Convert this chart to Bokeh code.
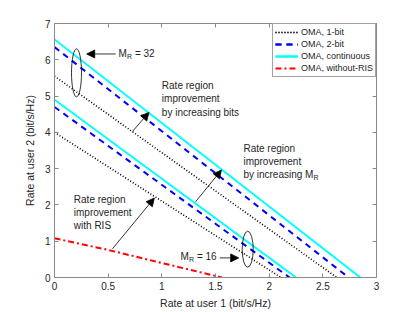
from bokeh.plotting import figure
from bokeh.models import (Range1d, FixedTicker, LinearAxis, Legend, LegendItem,
                          Label, Arrow, NormalHead)
from bokeh.embed import file_html
from bokeh.resources import INLINE

# ---- data ----
x_ticks = [0, 0.5, 1, 1.5, 2, 2.5, 3]
y_ticks = [0, 1, 2, 3, 4, 5, 6, 7]

# M_R = 32 curves: (x points, y points)
bit1_32_x = [0, 2.63]
bit1_32_y = [5.55, 0]
bit2_32_x = [0, 2.74]
bit2_32_y = [6.35, 0]
cont_32_x = [0, 2.85]
cont_32_y = [6.56, 0]

# M_R = 16 curves
bit1_16_x = [0, 2.11]
bit1_16_y = [4.0, 0]
bit2_16_x = [0, 2.19]
bit2_16_y = [4.7, 0]
cont_16_x = [0, 2.25]
cont_16_y = [4.9, 0]

# without RIS
noris_x = [0, 0.5, 1.0, 1.56]
noris_y = [1.08, 0.76, 0.40, 0]

FONT = "Liberation Sans"
AX = "#8a8a8a"
TXT = "#262626"

p = figure(width=406, height=312, output_backend="svg", toolbar_location=None,
           x_range=Range1d(0, 3), y_range=Range1d(0, 7),
           min_border_left=54, min_border_right=30, min_border_top=23,
           min_border_bottom=35)
p.outline_line_color = None
p.xgrid.visible = False
p.ygrid.visible = False
p.background_fill_color = "white"

def style_axis(ax, ticks, labels=True):
    ax.ticker = FixedTicker(ticks=ticks)
    ax.axis_line_color = AX
    ax.major_tick_line_color = AX
    ax.major_tick_in = 4
    ax.major_tick_out = 0
    ax.minor_tick_line_color = None
    ax.major_label_text_font = FONT
    ax.major_label_text_font_size = "10px"
    ax.major_label_text_color = TXT
    ax.axis_label_text_font = FONT
    ax.axis_label_text_font_size = "10.5px"
    ax.axis_label_text_font_style = "normal"
    ax.axis_label_text_color = TXT
    if not labels:
        ax.major_label_text_font_size = "0px"
        ax.major_label_text_color = None

style_axis(p.xaxis[0], x_ticks)
style_axis(p.yaxis[0], y_ticks)
p.xaxis[0].axis_label = "Rate at user 1 (bit/s/Hz)"
p.yaxis[0].axis_label = "Rate at user 2 (bit/s/Hz)"
p.xaxis[0].major_label_standoff = 4
p.yaxis[0].major_label_standoff = 4
p.xaxis[0].axis_label_standoff = 4
p.yaxis[0].axis_label_standoff = 6

top = LinearAxis()
style_axis(top, x_ticks, labels=False)
p.add_layout(top, "above")
right = LinearAxis()
style_axis(right, y_ticks, labels=False)
p.add_layout(right, "right")

# ---- lines ----
r_b1a = p.line(bit1_32_x, bit1_32_y, line_color="black", line_width=1.6, line_dash="1 2")
r_b1b = p.line(bit1_16_x, bit1_16_y, line_color="black", line_width=1.6, line_dash="1 2")
r_b2a = p.line(bit2_32_x, bit2_32_y, line_color="#0000ff", line_width=2, line_dash="6 5")
r_b2b = p.line(bit2_16_x, bit2_16_y, line_color="#0000ff", line_width=2, line_dash="6 5")
r_ca = p.line(cont_32_x, cont_32_y, line_color="#00ffff", line_width=2)
r_cb = p.line(cont_16_x, cont_16_y, line_color="#00ffff", line_width=2)
r_nr = p.line(noris_x, noris_y, line_color="#ff0000", line_width=2, line_dash="6 3 2 3")

legend = Legend(items=[
    LegendItem(label="OMA, 1-bit", renderers=[r_b1a, r_b1b]),
    LegendItem(label="OMA, 2-bit", renderers=[r_b2a, r_b2b]),
    LegendItem(label="OMA, continuous", renderers=[r_ca, r_cb]),
    LegendItem(label="OMA, without-RIS", renderers=[r_nr]),
], location="top_right")
legend.margin = 0
legend.padding = 2
legend.spacing = 0
legend.glyph_width = 23
legend.glyph_height = 12
legend.label_height = 12
legend.label_standoff = 3
legend.label_text_font = FONT
legend.label_text_font_size = "9px"
legend.label_text_color = TXT
legend.border_line_color = "#444444"
legend.border_line_width = 1
legend.background_fill_alpha = 1
p.add_layout(legend)

# ---- ellipses ----
p.ellipse(x=[0.205], y=[5.64], width=[10], height=[48], width_units="screen",
          height_units="screen", fill_color=None, line_color="black", line_width=0.8)
p.ellipse(x=[1.80], y=[0.78], width=[11], height=[36], width_units="screen",
          height_units="screen", fill_color=None, line_color="black", line_width=0.8)

# ---- text annotations ----
def lab(x, y, t, size="10px", xo=0, yo=0):
    p.add_layout(Label(x=x, y=y, text=t, x_offset=xo, y_offset=yo,
                       text_font=FONT, text_font_size=size, text_color=TXT,
                       text_baseline="middle", text_align="left"))

def sub_label(x, y, before, after, before_w):
    # "before" + M + subscript R + after
    lab(x, y, before + "M")
    lab(x, y, "R", size="7px", xo=before_w + 8.3, yo=-3)
    if after:
        lab(x, y, after, xo=before_w + 8.3 + 5.2 + 2.8)

sub_label(0.597, 6.16, "", "= 32", 0)
sub_label(1.175, 0.58, "", "= 16", 0)

for i, t in enumerate(["Rate region", "improvement", "by increasing bits"]):
    lab(1.0, [5.28, 4.92, 4.55][i], t)

lab(1.76, 3.56, "Rate region")
lab(1.76, 3.21, "improvement")
sub_label(1.76, 2.85, "by increasing ", "", 61.7)

for i, t in enumerate(["Rate region", "improvement", "with RIS"]):
    lab(0.18, [2.16, 1.80, 1.43][i], t)

# ---- arrows ----
def arrow(x0, y0, x1, y1):
    p.add_layout(Arrow(end=NormalHead(size=8, fill_color="black", line_color="black",
                                      line_width=0.8),
                       x_start=x0, y_start=y0, x_end=x1, y_end=y1,
                       line_color="black", line_width=0.8))

arrow(0.57, 6.16, 0.30, 6.16)
arrow(1.54, 0.54, 1.716, 0.54)
arrow(0.725, 4.02, 0.88, 4.55)
arrow(1.315, 2.09, 1.555, 2.96)
arrow(0.54, 0.79, 0.93, 2.19)

open("out.html", "w").write(file_html(p, INLINE))
